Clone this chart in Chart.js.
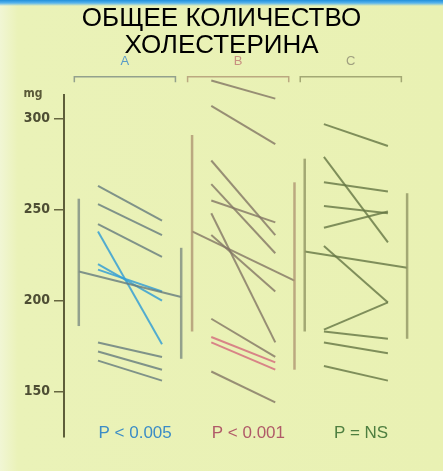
<!DOCTYPE html>
<html>
<head>
<meta charset="utf-8">
<script src="https://cdn.jsdelivr.net/npm/chart.js@4"></script>
<style>
  html, body { margin: 0; padding: 0; }
  body {
    width: 443px; height: 471px; overflow: hidden; position: relative;
    background: linear-gradient(to right, #f1f6d4 0, #eaf2b8 18px, #e9f1b3 100%);
  }
  #topband {
    position: absolute; left: 0; top: 0; width: 443px; height: 6px;
    background: linear-gradient(to bottom, #1f8fdc 0, #58b4ec 3px, rgba(233,241,179,0) 6px);
  }
  #title {
    position: absolute; left: 0; top: 4px; width: 443px; text-align: center;
    font-family: "Liberation Sans", Arial, sans-serif; font-size: 26px; line-height: 27px;
    color: #000; pointer-events: none; z-index: 2;
  }
  canvas { position: absolute; left: 0; top: 0; }
</style>
</head>
<body>
<div id="topband"></div>
<canvas id="chart" width="443" height="471"></canvas>
<div id="title">ОБЩЕЕ КОЛИЧЕСТВО<br>ХОЛЕСТЕРИНА</div>
<script>
// data (mg)
const groups = ['A', 'B', 'C'];
const pLabels = ['P < 0.005', 'P < 0.001', 'P = NS'];
const yTicks = [150, 200, 250, 300];

const aBefore = [263, 253, 242, 238, 220, 217, 177, 172, 167];
const aAfter  = [244, 236, 224, 176, 200, 205, 169, 162, 156];
const bBefore = [321, 307, 277, 264, 255, 248, 236, 190, 180, 177, 161];
const bAfter  = [311, 286, 236, 226, 243, 177, 205, 169, 166, 162, 144];
const cBefore = [297, 279, 265, 252, 240, 230, 184, 183, 177, 164];
const cAfter  = [285, 232, 260, 248, 249, 199, 199, 179, 171, 156];

const meanBefore = [216, 238, 227];
const meanAfter  = [202, 211, 218];
const sdLowBefore  = [186, 183, 183];
const sdHighBefore = [256, 291, 278];
const sdLowAfter   = [168, 162, 179];
const sdHighAfter  = [229, 265, 259];

// layout / styling
const center = [1.5, 3.27, 5.03];
const lineColor = ['rgba(100,122,125,0.8)', 'rgba(130,118,100,0.8)', 'rgba(100,118,68,0.8)'];
const barColor = ['rgba(125,140,130,0.8)', 'rgba(175,150,115,0.8)', 'rgba(145,150,100,0.8)'];
const accentIdx = [[3, 4, 5], [8, 9], []];
const accentColor = ['rgba(55,160,212,0.85)', 'rgba(214,120,130,0.9)', ''];
const labelColor = ['#5a9cc8', '#c89080', '#a0a080'];
const pColor = ['#3b8cc6', '#b05a68', '#4e7f40'];
const bracketY = 323, bracketTick = 320;

const before = [aBefore, bBefore, cBefore];
const after = [aAfter, bAfter, cAfter];

function seg(x0, y0, x1, y1, color, width) {
  return {
    data: [{ x: x0, y: y0 }, { x: x1, y: y1 }],
    borderColor: color, borderWidth: width,
    pointRadius: 0, tension: 0, clip: false, fill: false
  };
}

const datasets = [];
groups.forEach((g, i) => {
  const c = center[i];
  // bracket over the group
  datasets.push({
    data: [{ x: c - 0.87, y: bracketTick }, { x: c - 0.87, y: bracketY },
           { x: c + 0.71, y: bracketY }, { x: c + 0.71, y: bracketTick }],
    borderColor: barColor[i], borderWidth: 1.5, pointRadius: 0, tension: 0, clip: false, fill: false
  });
  // spread bars and mean line
  datasets.push(seg(c - 0.8, sdLowBefore[i], c - 0.8, sdHighBefore[i], barColor[i], 2.5));
  datasets.push(seg(c + 0.8, sdLowAfter[i], c + 0.8, sdHighAfter[i], barColor[i], 2.5));
  datasets.push(seg(c - 0.8, meanBefore[i], c + 0.8, meanAfter[i], lineColor[i], 2));
  // individual patients
  before[i].forEach((v, k) => {
    const col = accentIdx[i].includes(k) ? accentColor[i] : lineColor[i];
    datasets.push(seg(c - 0.5, v, c + 0.5, after[i][k], col, 2));
  });
});

const textPlugin = {
  id: 'texts',
  afterDraw(chart) {
    const ctx = chart.ctx, xs = chart.scales.x, ys = chart.scales.y;
    ctx.save();
    ctx.textAlign = 'center';
    ctx.textBaseline = 'middle';
    ctx.fillStyle = '#5a5a38';
    ctx.font = 'bold 12px "Liberation Sans Narrow", "DejaVu Sans Condensed", sans-serif';
    ctx.fillText('mg', 33, ys.getPixelForValue(313) - 1);
    groups.forEach((g, i) => {
      ctx.fillStyle = labelColor[i];
      ctx.font = '13px "Liberation Sans", Arial, sans-serif';
      ctx.fillText(g, xs.getPixelForValue(center[i] - 0.08), ys.getPixelForValue(bracketY) - 15);
      ctx.fillStyle = pColor[i];
      ctx.font = '17px "Liberation Sans Narrow", "Liberation Sans", sans-serif';
      ctx.fillText(pLabels[i], xs.getPixelForValue(center[i] + 0.08), ys.getPixelForValue(127));
    });
    ctx.restore();
  }
};

new Chart(document.getElementById('chart'), {
  type: 'line',
  data: { datasets: datasets },
  options: {
    responsive: false,
    animation: false,
    devicePixelRatio: 1,
    layout: { padding: { top: 95, bottom: 34, left: 0, right: 25 } },
    plugins: { legend: { display: false }, tooltip: { enabled: false } },
    scales: {
      x: { type: 'linear', display: false, min: 0.46875, max: 6 },
      y: {
        type: 'linear', min: 125, max: 313,
        afterBuildTicks: (s) => { s.ticks = yTicks.map(v => ({ value: v })); },
        afterFit: (s) => { s.width = 64; },
        ticks: {
          color: '#4e4e34', padding: 4,
          font: { family: '"Liberation Sans Narrow", "DejaVu Sans Condensed", sans-serif', size: 14, weight: 'bold' }
        },
        grid: { drawOnChartArea: false, drawTicks: true, tickLength: 10, color: '#666640', lineWidth: 1.5 },
        border: { display: true, color: '#5e5e3a', width: 2 }
      }
    }
  },
  plugins: [textPlugin]
});
</script>
</body>
</html>
